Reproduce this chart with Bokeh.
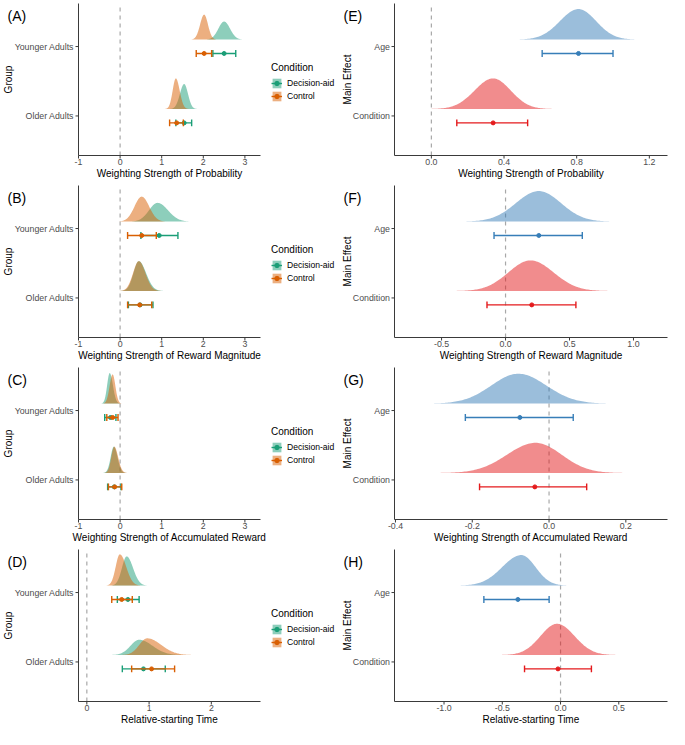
import numpy as np
from bokeh.plotting import figure
from bokeh.layouts import gridplot
from bokeh.models import Range1d, Legend, LegendItem
from bokeh.core.properties import value
from bokeh.embed import file_html
from bokeh.resources import INLINE

FONT = "Liberation Sans"

# ---------------- data ----------------
# Left panels (A-D): cells ordered [Younger aid, Younger control, Older aid, Older control]
left_group_names = ["Younger Adults", "Older Adults"]
left_group_pos = [2, 1]
left_cell_group = [2, 2, 1, 1]
left_cell_cond = ["Decision-aid", "Control", "Decision-aid", "Control"]
left_conditions = ["Decision-aid", "Control"]

A_mean = [2.50, 2.02, 1.54, 1.36]
A_lo = [2.23, 1.83, 1.34, 1.19]
A_hi = [2.78, 2.20, 1.72, 1.52]
A_mode = [2.50, 2.02, 1.54, 1.34]
A_peak = [0.26, 0.36, 0.36, 0.44]

B_mean = [0.94, 0.52, 0.48, 0.47]
B_lo = [0.50, 0.18, 0.20, 0.18]
B_hi = [1.39, 0.87, 0.79, 0.76]
B_mode = [0.90, 0.52, 0.45, 0.45]
B_peak = [0.27, 0.36, 0.43, 0.43]

C_mean = [-0.23, -0.18, -0.14, -0.13]
C_lo = [-0.37, -0.32, -0.30, -0.28]
C_hi = [-0.10, -0.05, 0.02, 0.04]
C_mode = [-0.25, -0.18, -0.15, -0.14]
C_peak = [0.44, 0.42, 0.38, 0.38]

D_mean = [0.66, 0.56, 0.91, 1.04]
D_lo = [0.49, 0.40, 0.57, 0.72]
D_hi = [0.84, 0.73, 1.26, 1.41]
D_mode = [0.64, 0.53, 0.84, 0.97]
D_peak = [0.42, 0.45, 0.22, 0.24]

# Right panels (E-H): rows ordered [Age, Condition]
right_rows = ["Age", "Condition"]
right_row_pos = [2, 1]

E_mean = [0.81, 0.34]
E_lo = [0.61, 0.14]
E_hi = [1.00, 0.53]
E_mode = [0.81, 0.34]
E_peak = [0.44, 0.44]

F_mean = [0.26, 0.205]
F_lo = [-0.09, -0.145]
F_hi = [0.60, 0.55]
F_mode = [0.26, 0.195]
F_peak = [0.44, 0.44]

G_mean = [-0.076, -0.037]
G_lo = [-0.218, -0.181]
G_hi = [0.063, 0.098]
G_mode = [-0.08, -0.035]
G_peak = [0.43, 0.435]

H_mean = [-0.366, -0.022]
H_lo = [-0.658, -0.309]
H_hi = [-0.098, 0.265]
H_mode = [-0.336, -0.03]
H_peak = [0.44, 0.45]

ABC_ticks = [-1, 0, 1, 2, 3]
ABC_tick_labels = ["-1", "0", "1", "2", "3"]
D_ticks = [0, 1, 2]
D_tick_labels = ["0", "1", "2"]
E_ticks = [0.0, 0.4, 0.8, 1.2]
E_tick_labels = ["0.0", "0.4", "0.8", "1.2"]
F_ticks = [-0.5, 0.0, 0.5, 1.0]
F_tick_labels = ["-0.5", "0.0", "0.5", "1.0"]
G_ticks = [-0.4, -0.2, 0.0, 0.2]
G_tick_labels = ["-0.4", "-0.2", "0.0", "0.2"]
H_ticks = [-1.0, -0.5, 0.0, 0.5]
H_tick_labels = ["-1.0", "-0.5", "0.0", "0.5"]

# ---------------- style / layout ----------------
cond_color = {"Decision-aid": "#1B9E77", "Control": "#D95F02"}
row_color = {"Age": "#377EB8", "Condition": "#E41A1C"}
AXIS_COL = "#3a3a3a"
TICK_COL = "#4D4D4D"
H = 182
PT, PB = 3, 155          # plot region top / bottom (px from figure top)
LW, L_PL, L_PR = 336, 78, 260
RW, R_PL, R_PR = 333, 58, 331
YR = (0.43, 2.62)
BASE_OFF = 0.10
BAR_OFF = 0.10
CAP = 0.05
TICK_FS = "8.8px"
TITLE_FS = "10px"


def density_patch(mode, lo, hi, peak, base):
    sl = (mode - lo) / 1.96
    sr = (hi - mode) / 1.96
    xl = np.linspace(mode - 4 * sl, mode, 80)
    xr = np.linspace(mode, mode + 4 * sr, 80)[1:]
    dl = peak * np.exp(-0.5 * ((xl - mode) / sl) ** 2)
    dr = peak * np.exp(-0.5 * ((xr - mode) / sr) ** 2)
    xs = np.concatenate([xl, xr])
    ds = np.concatenate([dl, dr])
    px = np.concatenate([[xs[0]], xs, [xs[-1]]])
    py = np.concatenate([[base], base + ds, [base]])
    return list(px), list(py)


def make_frame(W, PL, PR, xr, ticks, tick_labels, xlabel, ylabel, ylab_names, ylab_pos,
               ylab_dx, tag):
    kx = (xr[1] - xr[0]) / (PR - PL)
    ky = (YR[1] - YR[0]) / (PB - PT)
    x_start = xr[0] - PL * kx
    x_end = xr[1] + (W - PR) * kx
    y_start = YR[0] - (H - PB) * ky
    y_end = YR[1] + PT * ky
    p = figure(width=W, height=H, x_range=Range1d(x_start, x_end),
               y_range=Range1d(y_start, y_end), output_backend="svg",
               toolbar_location=None, x_axis_location=None, y_axis_location=None,
               min_border=0)
    p.outline_line_color = None
    p.xgrid.visible = False
    p.ygrid.visible = False
    p.background_fill_color = "white"
    p.border_fill_color = "white"
    # zero reference line
    p.segment(x0=[0], y0=[YR[0]], x1=[0], y1=[YR[1]], line_color="#A8A8A8",
              line_dash="4 4", line_width=1.2)
    # axis lines
    p.segment(x0=[xr[0], xr[0]], y0=[YR[0], YR[0]], x1=[xr[1], xr[0]], y1=[YR[0], YR[1]],
              line_color=AXIS_COL, line_width=1)
    # x ticks
    p.segment(x0=ticks, y0=[YR[0]] * len(ticks), x1=ticks,
              y1=[YR[0] - 3 * ky] * len(ticks), line_color=AXIS_COL, line_width=1)
    p.text(x=ticks, y=[YR[0] - 3.5 * ky] * len(ticks), text=tick_labels,
           text_font=value(FONT), text_font_size=TICK_FS, text_color=TICK_COL,
           text_align="center", text_baseline="top")
    # y ticks
    p.segment(x0=[xr[0]] * 2, y0=ylab_pos, x1=[xr[0] - 3 * kx] * 2, y1=ylab_pos,
              line_color=AXIS_COL, line_width=1)
    p.text(x=[xr[0] - 4.5 * kx] * 2, y=ylab_pos, text=ylab_names,
           text_font=value(FONT), text_font_size=TICK_FS, text_color=TICK_COL,
           text_align="right", text_baseline="middle")
    # axis titles
    p.text(x=[(xr[0] + xr[1]) / 2], y=[YR[0] - 12.5 * ky], text=[xlabel],
           text_font=value(FONT), text_font_size=TITLE_FS, text_color="black",
           text_align="center", text_baseline="top")
    p.text(x=[xr[0] + ylab_dx * kx], y=[(YR[0] + YR[1]) / 2], text=[ylabel],
           angle=np.pi / 2, text_font=value(FONT), text_font_size=TITLE_FS,
           text_color="black", text_align="center", text_baseline="middle")
    # panel tag
    p.text(x=[x_start + 7 * kx], y=[y_end - 15 * ky], text=[tag],
           text_font=value(FONT), text_font_size="14px", text_color="black",
           text_align="left", text_baseline="middle")
    return p


def draw_cells(p, idxs, pos, mean, lo, hi, mode, peak, color):
    xs, ys = [], []
    for i in idxs:
        dx, dy = density_patch(mode[i], lo[i], hi[i], peak[i], pos[i] + BASE_OFF)
        xs.append(dx)
        ys.append(dy)
    pr = p.patches(xs=xs, ys=ys, fill_color=color, fill_alpha=0.5, line_alpha=0)
    y_bar = [pos[i] - BAR_OFF for i in idxs]
    los = [lo[i] for i in idxs]
    his = [hi[i] for i in idxs]
    mns = [mean[i] for i in idxs]
    sr = p.segment(x0=los, y0=y_bar, x1=his, y1=y_bar, line_color=color, line_width=1.4)
    p.segment(x0=los + his, y0=[y - CAP for y in y_bar] * 2, x1=los + his,
              y1=[y + CAP for y in y_bar] * 2, line_color=color, line_width=1.4)
    dr = p.scatter(x=mns, y=y_bar, size=4, color=color)
    return pr, sr, dr


def left_panel(tag, mean, lo, hi, mode, peak, xr, ticks, tick_labels, xlabel):
    p = make_frame(LW, L_PL, L_PR, xr, ticks, tick_labels, xlabel, "Group",
                   left_group_names, left_group_pos, -70, tag)
    rends = {}
    for cond in left_conditions:
        idxs = [i for i, c in enumerate(left_cell_cond) if c == cond]
        rends[cond] = draw_cells(p, idxs, left_cell_group, mean, lo, hi, mode, peak,
                                 cond_color[cond])
    legend = Legend(items=[LegendItem(label=c, renderers=list(rends[c]))
                           for c in left_conditions],
                    location=(271, 80), title="Condition")
    legend.title_text_font = FONT
    legend.title_text_font_size = TITLE_FS
    legend.title_text_font_style = "normal"
    legend.title_text_color = "black"
    legend.title_standoff = 4
    legend.label_text_font = FONT
    legend.label_text_font_size = "8.6px"
    legend.label_text_color = "black"
    legend.label_height = 12
    legend.label_standoff = 5
    legend.glyph_width = 11
    legend.glyph_height = 12
    legend.spacing = 1
    legend.padding = 0
    legend.margin = 0
    legend.border_line_color = None
    legend.background_fill_alpha = 0
    p.add_layout(legend)
    return p


def right_panel(tag, mean, lo, hi, mode, peak, xr, ticks, tick_labels, xlabel):
    p = make_frame(RW, R_PL, R_PR, xr, ticks, tick_labels, xlabel, "Main Effect",
                   right_rows, right_row_pos, -47, tag)
    for i, row in enumerate(right_rows):
        draw_cells(p, [i], right_row_pos, mean, lo, hi, mode, peak, row_color[row])
    return p


pA = left_panel("(A)", A_mean, A_lo, A_hi, A_mode, A_peak, (-1.0, 3.375), ABC_ticks,
                ABC_tick_labels, "Weighting Strength of Probability")
pB = left_panel("(B)", B_mean, B_lo, B_hi, B_mode, B_peak, (-1.0, 3.375), ABC_ticks,
                ABC_tick_labels, "Weighting Strength of Reward Magnitude")
pC = left_panel("(C)", C_mean, C_lo, C_hi, C_mode, C_peak, (-1.0, 3.375), ABC_ticks,
                ABC_tick_labels, "Weighting Strength of Accumulated Reward")
pD = left_panel("(D)", D_mean, D_lo, D_hi, D_mode, D_peak, (-0.134, 2.79), D_ticks,
                D_tick_labels, "Relative-starting Time")
pE = right_panel("(E)", E_mean, E_lo, E_hi, E_mode, E_peak, (-0.203, 1.30), E_ticks,
                 E_tick_labels, "Weighting Strength of Probability")
pF = right_panel("(F)", F_mean, F_lo, F_hi, F_mode, F_peak, (-0.868, 1.266), F_ticks,
                 F_tick_labels, "Weighting Strength of Reward Magnitude")
pG = right_panel("(G)", G_mean, G_lo, G_hi, G_mode, G_peak, (-0.4025, 0.3085), G_ticks,
                 G_tick_labels, "Weighting Strength of Accumulated Reward")
pH = right_panel("(H)", H_mean, H_lo, H_hi, H_mode, H_peak, (-1.425, 0.918), H_ticks,
                 H_tick_labels, "Relative-starting Time")

grid = gridplot([[pA, pE], [pB, pF], [pC, pG], [pD, pH]], toolbar_location=None)

open("out.html", "w").write(file_html(grid, INLINE))
